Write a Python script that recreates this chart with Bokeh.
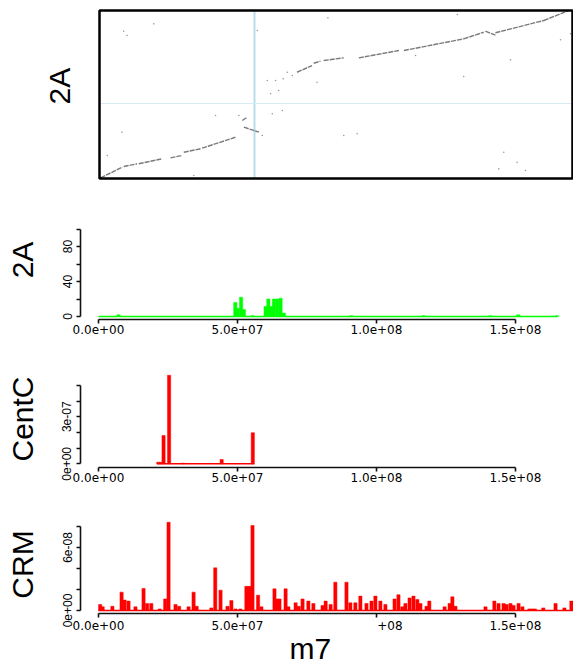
import math
from bokeh.plotting import figure
from bokeh.models import Range1d, FixedTicker, BoxAnnotation
from bokeh.layouts import column
from bokeh.embed import file_html
from bokeh.resources import INLINE

# ---------------- data ----------------
# dot plot (m7 position in Mb vs 2A position in Mb): alignment segments
seg_x0 = [0.4, 8.7, 14.1, 25.5, 30.3, 36.9, 51.3, 51.9, 71.0, 77.0, 80.6, 93.2, 109.4, 130.9, 138.7, 142.3, 159.7]
seg_y0 = [0.6, 11.4, 14.0, 19.7, 25.0, 28.9, 55.2, 48.9, 101.2, 109.8, 112.4, 114.9, 121.9, 133.0, 140.3, 138.8, 150.5]
seg_x1 = [8.2, 13.5, 22.5, 29.7, 36.3, 48.9, 53.1, 57.3, 76.4, 79.4, 87.8, 107.6, 130.9, 138.1, 142.3, 159.7, 168.7]
seg_y1 = [10.8, 14.0, 18.8, 21.9, 28.3, 39.3, 58.4, 44.1, 107.6, 111.7, 114.9, 121.9, 133.0, 139.3, 136.5, 150.5, 160.0]
# scattered hits
dot_x = [8.7, 9.9, 19.5, 33.9, 2.8, 8.1, 56.7, 82.1, 128.6, 113.6, 78.2, 130.9, 147.7, 165.7, 169.3,
         87.8, 92.6, 145.3, 150.1, 143.5, 153.1, 65.7, 62.1, 41.7, 50.1, 61.5, 64.4, 60.3, 63.3, 66.0,
         67.5, 69.3, 58.5, 55.5]
dot_y = [140.3, 136.2, 147.3, 2.9, 21.9, 44.1, 141.0, 153.0, 156.2, 117.1, 91.7, 97.1, 113.0, 132.1, 137.8,
         41.0, 42.6, 25.0, 15.5, 9.2, 7.6, 64.8, 61.6, 60.0, 60.0, 80.7, 83.8, 93.3, 93.3, 94.9,
         101.2, 98.1, 41.0, 45.7]
m7_len = 170.0  # Mb
twoA_len = 160.0  # Mb
cen_m7 = 55.7   # Mb
cen_2A = 71.4   # Mb

# 2A coverage along m7
twoA_pos = [7.2, 49.2, 50.1, 51.3, 52.3, 55.4, 60.1, 61.1, 62.2, 63.1, 64.3, 65.5, 66.7, 91.0, 117.0, 141.0, 151.0, 165.0]
twoA_val = [2, 16, 9.5, 22, 8, 1, 11.4, 20, 11.4, 20, 20, 21, 4, 1, 1, 1, 2, 1]
twoA_span = [0.0, 165.0]

# CentC density
centc_pos = [21.5, 22.5, 23.4, 25.4, 30.4, 44.3, 55.5]
centc_val = [0.1e-7, 0.1e-7, 1.8e-7, 5.64e-7, 0.04e-7, 0.28e-7, 1.98e-7]
centc_span = [21.0, 56.0]

# CRM density (values in units of 1e-8)
crm_pos = [0.6, 1.5, 5.0, 8.3, 9.4, 10.8, 13.3, 16.2, 17.5, 19.0, 22.0, 24.0, 25.2, 27.7, 29.0, 32.4, 34.2,
           35.3, 40.6, 42.0, 43.9, 46.4, 47.8, 49.3, 51.0, 53.2, 54.3, 55.4, 57.4, 58.6, 63.3, 64.2, 65.1,
           67.3, 68.3, 70.9, 72.0, 73.4, 75.5, 77.3, 80.6, 81.7, 83.5, 85.2, 89.2, 90.6, 92.4, 94.2, 96.4,
           98.2, 99.6, 101.4, 103.2, 106.5, 107.9, 109.3, 110.4, 111.9, 113.3, 114.7, 115.8, 118.0, 119.0,
           124.5, 126.3, 127.3, 128.4, 139.2, 142.4, 143.9, 145.7, 146.8, 148.2, 149.3, 151.1, 152.5,
           155.0, 156.0, 157.0, 160.0, 164.4, 167.6, 170.1]
crm_val = [0.57, 0.35, 0.4, 1.75, 1.0, 0.9, 0.35, 2.1, 0.67, 0.67, 0.15, 1.1, 8.4, 0.57, 0.4, 0.35, 1.75,
           0.4, 0.25, 4.06, 1.94, 0.4, 0.95, 0.15, 0.15, 2.3, 2.3, 8.1, 1.46, 0.35, 2.06, 1.1, 1.1,
           2.06, 0.35, 0.73, 0.4, 1.1, 0.9, 0.67, 0.48, 0.9, 0.57, 2.7, 2.7, 0.73, 0.73, 1.37, 0.67,
           0.9, 1.37, 0.9, 0.57, 1.1, 1.5, 0.35, 0.67, 1.2, 1.37, 1.05, 0.67, 0.4, 0.9,
           0.35, 0.67, 1.3, 0.4, 0.35, 0.9, 0.67, 0.67, 0.57, 0.67, 0.48, 0.67, 0.35,
           0.15, 0.15, 0.15, 0.25, 0.67, 0.25, 0.9]
crm_span = [0.0, 171.0]

x_ticks = [0, 50000000, 100000000, 150000000]
x_labels = ["0.0e+00", "5.0e+07", "1.0e+08", "1.5e+08"]
crm_x_labels = ["0.0e+00", "5.0e+07", "\u00a0" * 7 + "+08", "1.5e+08"]
twoA_ticks = [0, 20, 40, 60, 80, 100]
twoA_labels = ["0", "", "40", "", "80", ""]
centc_ticks = [0.0, 1e-07, 2e-07, 3e-07, 4e-07, 5e-07]
centc_labels = ["0e+00", "", "", "3e-07", "", ""]
crm_ticks = [0.0, 2e-08, 4e-08, 6e-08, 8e-08]
crm_labels = ["0e+00", "", "", "6e-08", ""]

MB = 1e6
GREEN = "#00FF00"
RED = "#FF0000"
BIG = "Liberation Sans"
W = 573
LEFT = 80
FW = 493


def style_big_label(ax, standoff):
    ax.axis_label_text_font = BIG
    ax.axis_label_text_font_size = "30px"
    ax.axis_label_text_font_style = "normal"
    ax.axis_label_text_color = "black"
    ax.axis_label_standoff = standoff


# ---------------- panel 1: dot plot ----------------
# box spans page x 99..572, y 10..178; frame spans 80..573, 8..180
sx1 = 473 / (m7_len * MB)
sy1 = 168 / (twoA_len * MB)
p1 = figure(width=W, height=200, frame_width=FW, frame_height=172,
            min_border_left=LEFT, min_border_right=0, min_border_top=8, min_border_bottom=20,
            x_range=Range1d(-19 / sx1, m7_len * MB + 1 / sx1),
            y_range=Range1d(-2 / sy1, twoA_len * MB + 2 / sy1),
            x_axis_location=None,
            output_backend="svg", toolbar_location=None)
p1.grid.visible = False
p1.outline_line_color = None
ya1 = p1.yaxis[0]
ya1.ticker = FixedTicker(ticks=[])
ya1.axis_line_color = None
ya1.major_tick_line_color = None
ya1.minor_tick_line_color = None
ya1.axis_label = "\u00a0\u00a02A"
style_big_label(ya1, 5)

p1.segment(x0=[cen_m7 * MB], y0=[0], x1=[cen_m7 * MB], y1=[twoA_len * MB],
           line_color="#B9DDEB", line_width=2)
p1.segment(x0=[0], y0=[cen_2A * MB], x1=[m7_len * MB], y1=[cen_2A * MB],
           line_color="#D6ECF3", line_width=1)
p1.segment(x0=[v * MB for v in seg_x0], y0=[v * MB for v in seg_y0],
           x1=[v * MB for v in seg_x1], y1=[v * MB for v in seg_y1],
           line_color="#7A7A7A", line_width=1.4, line_dash="5 1")
p1.scatter(x=[v * MB for v in dot_x], y=[v * MB for v in dot_y], size=1.6,
           fill_color="#9A9A9A", line_color=None)
p1.add_layout(BoxAnnotation(left=0, right=m7_len * MB, bottom=0, top=twoA_len * MB,
                            fill_color=None, fill_alpha=0, line_color="black",
                            line_alpha=1.0, line_width=2.5))

# ---------------- helper for bottom panels ----------------
PX = 2.78e-6  # pixels per bp
XR = (-18 / PX, 475 / PX)


def make_panel(height, top, fh, bottom, yr, yticks, ylabels, xlabels, ylab):
    p = figure(width=W, height=height, frame_width=FW, frame_height=fh,
               min_border_left=LEFT, min_border_right=0, min_border_top=top, min_border_bottom=bottom,
               x_range=Range1d(*XR), y_range=Range1d(*yr),
               output_backend="svg", toolbar_location=None)
    p.grid.visible = False
    p.outline_line_color = None
    xa = p.xaxis[0]
    xa.ticker = FixedTicker(ticks=x_ticks)
    xa.major_label_overrides = {t: l for t, l in zip(x_ticks, xlabels)}
    xa.bounds = (x_ticks[0], x_ticks[-1])
    ya = p.yaxis[0]
    ya.ticker = FixedTicker(ticks=yticks)
    ya.major_label_overrides = {t: l for t, l in zip(yticks, ylabels)}
    ya.bounds = (yticks[0], yticks[-1])
    ya.major_label_orientation = "parallel"
    for a in (xa, ya):
        a.axis_line_width = 1.6
        a.axis_line_color = "#111111"
        a.major_tick_line_width = 1.6
        a.major_tick_line_color = "#111111"
        a.major_tick_in = 0
        a.major_tick_out = 4
        a.minor_tick_line_color = None
        a.major_label_text_color = "black"
    xa.major_label_text_font = "DejaVu Sans"
    xa.major_label_text_font_size = "12px"
    xa.major_label_standoff = 1
    ya.major_label_text_font = "Liberation Sans"
    ya.major_label_text_font_size = "12px"
    ya.major_label_standoff = 5
    ya.axis_label = ylab
    style_big_label(ya, 21)
    return p


# ---------------- panel 2: 2A ----------------
p2 = make_panel(150, 0, 119, 31, (-3 / 0.875, 116 / 0.875), twoA_ticks, twoA_labels, x_labels, "2A")
p2.line(x=[v * MB for v in twoA_span], y=[0, 0], line_color=GREEN, line_width=1.6)
p2.vbar(x=[v * MB for v in twoA_pos], top=twoA_val, bottom=0, width=1.15 * MB,
        fill_color=GREEN, line_color=GREEN, line_width=0.5)

# ---------------- panel 3: CentC ----------------
S3 = 1.57e8
p3 = make_panel(146, 20, 97, 29, (-3.7 / S3, 93.3 / S3), centc_ticks, centc_labels, x_labels, "CentC")
p3.line(x=[v * MB for v in centc_span], y=[0, 0], line_color=RED, line_width=1.6)
p3.vbar(x=[v * MB for v in centc_pos], top=centc_val, bottom=0, width=1.15 * MB,
        fill_color=RED, line_color=RED, line_width=0.5)

# ---------------- panel 4: CRM ----------------
S4 = 1.05e9
p4 = make_panel(170, 19, 98, 53, (-3 / S4, 95 / S4), crm_ticks, crm_labels, crm_x_labels, "CRM")
p4.line(x=[v * MB for v in crm_span], y=[0, 0], line_color=RED, line_width=1.6)
p4.vbar(x=[v * MB for v in crm_pos], top=[v * 1e-8 for v in crm_val], bottom=0, width=1.15 * MB,
        fill_color=RED, line_color=RED, line_width=0.5)
xa4 = p4.xaxis[0]
xa4.axis_label = "m7" + "\u00a0" * 4
style_big_label(xa4, -4)
xa4.axis_label_text_line_height = 1.0

layout = column(p1, p2, p3, p4, spacing=0)
open("out.html", "w").write(file_html(layout, INLINE))
